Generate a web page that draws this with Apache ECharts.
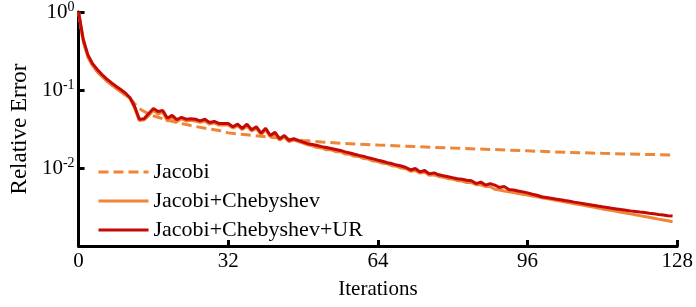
<!DOCTYPE html>
<html>
<head>
  <meta charset="UTF-8">
  <title>Relative Error vs Iterations</title>
  <script src="https://cdn.jsdelivr.net/npm/echarts@6/dist/echarts.min.js"></script>
  <style>
    html, body { margin: 0; padding: 0; background: #fff; }
    #chart { width: 696px; height: 307px; }
  </style>
</head>
<body>
<div id="chart"></div>
<script type="text/javascript">
  // iteration index 0..127 for the two solid curves
  var iterations = [];
  for (var i = 0; i < 128; i++) iterations.push(i);

  var chebyUR = [
    1.0, 0.447, 0.282, 0.2175, 0.183, 0.158, 0.139, 0.124, 0.112, 0.1015,
    0.0917, 0.0794, 0.0613, 0.0422, 0.0428, 0.0501, 0.0579, 0.0531, 0.0546, 0.0434,
    0.0473, 0.0416, 0.0447, 0.0422, 0.0428, 0.0422, 0.0402, 0.0422, 0.0383, 0.0395,
    0.0372, 0.0372, 0.0372, 0.0338, 0.0365, 0.0323, 0.0365, 0.031, 0.0338, 0.0279,
    0.0323, 0.0261, 0.0287, 0.0237, 0.0261, 0.0226, 0.0237, 0.0226, 0.0215, 0.0205,
    0.0200, 0.0194, 0.0188, 0.0183, 0.0178, 0.0173, 0.0168, 0.0161, 0.0156, 0.0150,
    0.0145, 0.0141, 0.0135, 0.0131, 0.0126, 0.0122, 0.0117, 0.0114, 0.0109, 0.0106,
    0.01015, 0.00944, 0.00986, 0.00891, 0.00931, 0.00841, 0.00866, 0.00818, 0.00794, 0.00772,
    0.0075, 0.00729, 0.00718, 0.00698, 0.00688, 0.00631, 0.00659, 0.00604, 0.00631, 0.00604,
    0.00562, 0.00579, 0.00531, 0.00523, 0.00508, 0.00494, 0.0048, 0.0046, 0.00447, 0.00428,
    0.00419, 0.0041, 0.004, 0.00391, 0.00382, 0.00374, 0.00365, 0.00357, 0.00349, 0.00341,
    0.00333, 0.00325, 0.00318, 0.00312, 0.00305, 0.00299, 0.00293, 0.00288, 0.00282, 0.00277,
    0.00272, 0.00268, 0.00263, 0.00259, 0.00254, 0.0025, 0.00245, 0.00242
  ];

  var cheby = [
    1.0, 0.42, 0.265, 0.205, 0.172, 0.149, 0.131, 0.117, 0.105, 0.0955,
    0.0865, 0.0785, 0.058, 0.0405, 0.0415, 0.047, 0.055, 0.049, 0.052, 0.040,
    0.045, 0.039, 0.043, 0.040, 0.041, 0.040, 0.0385, 0.040, 0.0365, 0.038,
    0.0355, 0.0358, 0.0355, 0.0325, 0.035, 0.031, 0.0345, 0.0298, 0.0322, 0.0268,
    0.0308, 0.025, 0.0275, 0.0228, 0.0248, 0.0218, 0.0228, 0.0218, 0.0208, 0.0198,
    0.0192, 0.0183, 0.0181, 0.0171, 0.0171, 0.0162, 0.0162, 0.0151, 0.0150, 0.0141,
    0.0140, 0.0132, 0.0130, 0.0123, 0.0121, 0.0115, 0.0113, 0.0107, 0.0105, 0.0100,
    0.0098, 0.0091, 0.0093, 0.0086, 0.0088, 0.0081, 0.0082, 0.0078, 0.0076, 0.0073,
    0.0072, 0.0069, 0.0068, 0.0065, 0.0065, 0.0061, 0.0061, 0.0058, 0.0058, 0.00535,
    0.00522, 0.00508, 0.00497, 0.00484, 0.00472, 0.0046, 0.00449, 0.00438, 0.00427, 0.00416,
    0.00406, 0.00396, 0.00386, 0.00376, 0.00367, 0.00358, 0.00349, 0.0034, 0.00332, 0.00324,
    0.00315, 0.00307, 0.00299, 0.00292, 0.00285, 0.00278, 0.00271, 0.00265, 0.00258, 0.00251,
    0.00245, 0.00239, 0.00233, 0.00227, 0.00221, 0.00216, 0.00211, 0.00205
  ];

  var jacobiIter = [0, 1, 2, 3, 4, 5, 6, 7, 8, 9, 10, 11, 12, 13, 14, 15, 16, 17, 18, 19, 20,
    22, 24, 26, 28, 30, 32, 36, 40, 44, 48, 52, 56, 60, 64, 72, 80, 88, 96, 104, 112, 120, 127];
  var jacobi = [1.0, 0.42, 0.265, 0.205, 0.172, 0.149, 0.131, 0.117, 0.105, 0.0955, 0.0865,
    0.0785, 0.0668, 0.0579, 0.0531, 0.0494, 0.0466, 0.0447, 0.0428, 0.041, 0.0398,
    0.0371, 0.035, 0.0332, 0.0316, 0.0303, 0.0282, 0.0266, 0.0251, 0.0237, 0.0225,
    0.0216, 0.0208, 0.0202, 0.0197, 0.0188, 0.018, 0.0173, 0.0166, 0.0159, 0.0154, 0.015, 0.0147];

  var xTicks = [0, 32, 64, 96, 128];

  var font = "'Liberation Serif', 'Times New Roman', serif";
  var orange = '#F08535';
  var red = '#C50808';

  function pairs(xs, ys) {
    return xs.map(function (x, k) { return [x, ys[k]]; });
  }

  var chart = echarts.init(document.getElementById('chart'));
  chart.setOption({
    animation: false,
    backgroundColor: '#fff',
    grid: { left: 78, right: 18, top: 5, bottom: 61, containLabel: false },
    legend: {
      orient: 'vertical',
      left: 97,
      top: 161,
      padding: 0,
      itemWidth: 50,
      itemHeight: 14,
      itemGap: 7,
      itemStyle: { opacity: 0 },
      lineStyle: { width: 3 },
      textStyle: { fontFamily: font, fontSize: 22, color: '#000', lineHeight: 22 },
      data: ['Jacobi', 'Jacobi+Chebyshev', 'Jacobi+Chebyshev+UR']
    },
    xAxis: {
      type: 'value',
      min: xTicks[0],
      max: xTicks[xTicks.length - 1],
      interval: 32,
      name: 'Iterations',
      nameLocation: 'middle',
      nameGap: 33,
      nameTextStyle: { fontFamily: font, fontSize: 21, color: '#000' },
      axisLine: { lineStyle: { color: '#000', width: 3 } },
      axisTick: { inside: true, length: 6, lineStyle: { color: '#000', width: 3 } },
      axisLabel: { fontFamily: font, fontSize: 21, color: '#000', margin: 5 },
      splitLine: { show: false }
    },
    yAxis: {
      type: 'log',
      logBase: 10,
      min: 0.001,
      max: 1,
      name: 'Relative Error',
      nameLocation: 'middle',
      nameGap: 46,
      nameTextStyle: { fontFamily: font, fontSize: 23, color: '#000' },
      axisLine: { lineStyle: { color: '#000', width: 3 } },
      axisTick: { inside: true, length: 6, lineStyle: { color: '#000', width: 3 } },
      axisLabel: {
        margin: 4,
        formatter: function (v) {
          var e = Math.round(Math.log(v) / Math.LN10);
          if (e <= -3) return '';
          return '{b|10}{s|' + e + '}';
        },
        rich: {
          b: { fontFamily: font, fontSize: 21, color: '#000' },
          s: { fontFamily: font, fontSize: 14, color: '#000', padding: [0, 0, 10, 0] }
        }
      },
      splitLine: { show: false }
    },
    series: [
      {
        name: 'Jacobi',
        type: 'line',
        showSymbol: false,
        symbol: 'none',
        data: pairs(jacobiIter, jacobi),
        lineStyle: { color: orange, width: 3, type: [10, 5] },
        itemStyle: { color: orange },
        z: 2
      },
      {
        name: 'Jacobi+Chebyshev',
        type: 'line',
        showSymbol: false,
        symbol: 'none',
        data: pairs(iterations, cheby),
        lineStyle: { color: orange, width: 3 },
        itemStyle: { color: orange },
        z: 3
      },
      {
        name: 'Jacobi+Chebyshev+UR',
        type: 'line',
        showSymbol: false,
        symbol: 'none',
        data: pairs(iterations, chebyUR),
        lineStyle: { color: red, width: 3 },
        itemStyle: { color: red },
        z: 4
      }
    ]
  });
</script>
</body>
</html>
